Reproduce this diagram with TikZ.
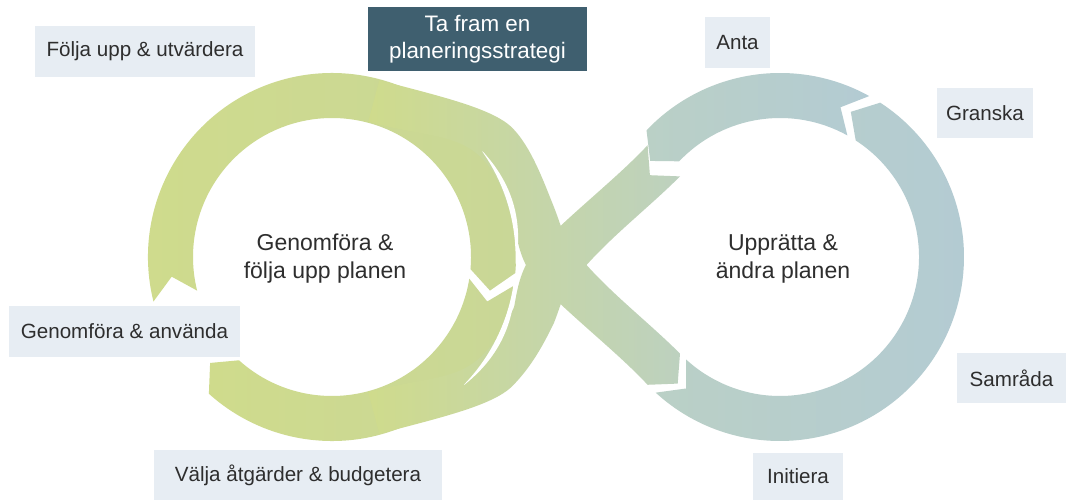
\documentclass[tikz,border=0pt]{standalone}
\usepackage{fontspec}
\setmainfont{Liberation Sans}
\usetikzlibrary{calc}
\definecolor{lbl}{HTML}{E7EDF3}
\definecolor{stratc}{HTML}{3F5F6F}
\definecolor{txt}{HTML}{2E2E2E}
\definecolor{grn}{HTML}{CFDB8C}
\definecolor{grn3}{HTML}{C9D797}
\definecolor{gry}{HTML}{B3CBD3}
\definecolor{midc}{HTML}{BDD1BF}
\definecolor{midd}{HTML}{BAD0C6}
\newcommand\ringseg[5]{%
  \path[#5] ($(#1)+(#2:184)$) arc[start angle=#2,end angle=#3,radius=184]
    -- ($(#1)+({#3+#4}:161.5)$) -- ($(#1)+(#3:139)$)
    arc[start angle=#3,end angle=#2,radius=139]
    -- ($(#1)+({#2+#4}:161.5)$) -- cycle;}
\begin{document}
\begin{tikzpicture}[x=0.5pt,y=-0.5pt,
  lab/.style={fill=lbl, text=txt, font=\fontsize{10.3}{12}\selectfont, inner sep=0pt, align=center},
  ctr/.style={text=txt, font=\fontsize{11.5}{14}\selectfont, align=center}]
\useasboundingbox[fill=white] (0,0) rectangle (1072,501);
\coordinate (L) at (332,257);
\coordinate (R) at (780,257);
% left ring
\ringseg{L}{166}{365}{7}{left color=grn, right color=grn3}
\ringseg{L}{9}{132}{7}{left color=grn, right color=grn3}
% band B (upper right -> lower left)
\path[left color=grn, right color=midc]
  (647.6,145.2) .. controls (613.6,181.9) and (556,225) .. (530,258)
  .. controls (519,275) and (517,292) .. (514.1,307)
  .. controls (504,328) and (500.9,336.7) .. (481.8,355.8)
  .. controls (457.1,380.5) and (426.2,376.7) .. (368.2,392.2)
  -- (379.4,433.8) .. controls (437.4,418.3) and (492.4,406) .. (512.2,386.2)
  .. controls (531.3,367.1) and (543.8,344) .. (553.9,323)
  .. controls (560.3,307.2) and (562.4,294.6) .. (572.9,281.2)
  .. controls (603.7,241.8) and (644.6,211.7) .. (680,176.4)
  -- (649.9,175.2) -- cycle;
% band A (upper left -> lower right)
\path[left color=grn, right color=midc]
  (379.4,80.2) .. controls (437.4,95.7) and (492.4,108) .. (512.2,127.8)
  .. controls (531.3,146.9) and (543.8,182) .. (553.9,207)
  .. controls (560.3,222.8) and (562.4,235.4) .. (572.9,248.8)
  .. controls (603.7,288.2) and (644.6,318.3) .. (680,353.6)
  -- (677.7,383.6) -- (647.6,384.8)
  .. controls (613.6,348.1) and (556,305) .. (530,272)
  .. controls (519,255) and (517,238) .. (514.1,223)
  .. controls (504,198) and (500.9,177.3) .. (481.8,158.2)
  .. controls (457.1,133.5) and (426.2,137.3) .. (368.2,121.8) -- cycle;
% white slivers between the bands and the left ring
\fill[white] plot[domain=-35:2, samples=40]
  ({332+(184+5*sin((\x+35)*180/37))*cos(\x)},{257+(184+5*sin((\x+35)*180/37))*sin(\x)})
  -- plot[domain=2:-35, samples=40] ({332+183.6*cos(\x)},{257+183.6*sin(\x)}) -- cycle;
\fill[white] plot[domain=6:44, samples=40]
  ({332+(184+5*sin((\x-6)*180/38))*cos(\x)},{257+(184+5*sin((\x-6)*180/38))*sin(\x)})
  -- plot[domain=44:6, samples=40] ({332+183.6*cos(\x)},{257+183.6*sin(\x)}) -- cycle;
% right ring
\ringseg{R}{132.5}{-57}{-7}{left color=midd, right color=gry}
\ringseg{R}{-61}{-136.5}{-7}{left color=midd, right color=gry}
% labels
\node[lab, minimum width=110pt, minimum height=25.5pt] (fu) at (145,51.5) {Följa upp \& utvärdera};
\node[lab, fill=stratc, text=white, font=\fontsize{11.2}{13.5}\selectfont, minimum width=109.5pt, minimum height=32pt] (strat) at (477.5,39) {Ta fram en\\planeringsstrategi};
\node[lab, minimum width=32.5pt, minimum height=25.5pt] (anta) at (737.5,42.5) {Anta};
\node[lab, minimum width=48pt, minimum height=25pt] (granska) at (985,113) {Granska};
\node[lab, minimum width=54.5pt, minimum height=25pt] (samrada) at (1011.5,378) {Samråda};
\node[lab, minimum width=45pt, minimum height=23.5pt] (initiera) at (798,476.5) {Initiera};
\node[lab, minimum width=144pt, minimum height=25pt] (valja) at (298,475) {Välja åtgärder \& budgetera};
\node[lab, minimum width=115.5pt, minimum height=25.5pt] (genom) at (124.5,331.5) {Genomföra \& använda};
\node[ctr] (cl) at (325,259) {Genomföra \&\\följa upp planen};
\node[ctr] (cr) at (783,259) {Upprätta \&\\ändra planen};
\end{tikzpicture}
\end{document}
